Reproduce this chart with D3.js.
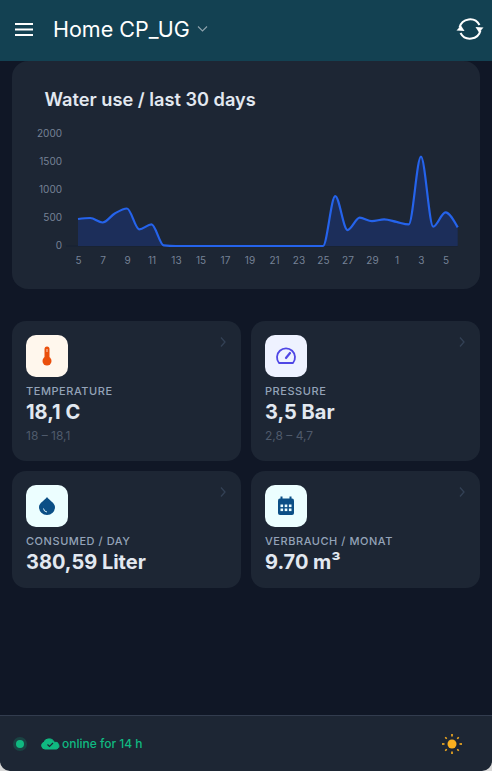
<!DOCTYPE html>
<html>
<head>
<meta charset="utf-8">
<script src="https://cdn.jsdelivr.net/npm/d3@7"></script>
<style>
  html, body { margin: 0; padding: 0; background: #101726; overflow: hidden; }
  text { font-family: Inter, "Noto Sans", sans-serif; }
</style>
</head>
<body>
<svg id="page" width="492" height="771"></svg>
<script>
var days = ["5","6","7","8","9","10","11","12","13","14","15","16","17","18","19","20","21","22","23","24","25","26","27","28","29","30","1","2","3","4","5","6"];
var waterUse = [482,500,420,580,670,298,385,10,0,0,0,0,0,0,0,0,0,0,0,0,0,890,285,505,445,475,430,385,1595,345,600,333];
var yTicks = [0,500,1000,1500,2000];

var cards = [
  {x:12, y:321, w:229, h:140, label:"TEMPERATURE", value:"18,1 C", range:"18 – 18,1", icon:"temp", tile:"#fff7ed"},
  {x:251, y:321, w:229, h:140, label:"PRESSURE", value:"3,5 Bar", range:"2,8 – 4,7", icon:"gauge", tile:"#eef2ff"},
  {x:12, y:471, w:229, h:117, label:"CONSUMED / DAY", value:"380,59 Liter", range:"", icon:"drop", tile:"#ecfeff"},
  {x:251, y:471, w:229, h:117, label:"VERBRAUCH / MONAT", value:"9.70 m³", range:"", icon:"calendar", tile:"#ecfeff"}
];

var cardColor = "#1d2634";
var svg = d3.select("#page");

// chart card
svg.append("rect").attr("x",12).attr("y",61).attr("width",468).attr("height",228).attr("rx",16).attr("fill",cardColor);

// header
svg.append("rect").attr("width",492).attr("height",61).attr("fill","#134152");
svg.append("g").attr("stroke","#fff").attr("stroke-width",2)
  .selectAll("line").data([24,29.5,35]).enter().append("line")
  .attr("x1",15).attr("x2",33).attr("y1",function(d){return d}).attr("y2",function(d){return d});
svg.append("text").attr("x",53).attr("y",37).attr("font-size",21.5).attr("fill","#fff").text("Home CP_UG");
svg.append("path").attr("d","M198 26.5l4.5 4.5l4.5-4.5").attr("fill","none").attr("stroke","#8fa3ad").attr("stroke-width",1.1);

// refresh icon
var sync = svg.append("g").attr("transform","translate(470,29)").attr("fill","none").attr("stroke","#fff").attr("stroke-width",2);
sync.append("path").attr("d","M-10.5 -1.5A10.8 10.8 0 0 1 9.5 -4");
sync.append("path").attr("d","M10.5 1.5A10.8 10.8 0 0 1 -9.5 4");
sync.append("path").attr("d","M13.5 -1.5L9 3.5L5.5 -2Z").attr("fill","#fff").attr("stroke","none");
sync.append("path").attr("d","M-13.5 1.5L-9 -3.5L-5.5 2Z").attr("fill","#fff").attr("stroke","none");

// chart
svg.append("text").attr("x",44.5).attr("y",106).attr("font-size",18.2).attr("font-weight",600).attr("fill","#e2e8f0").text("Water use / last 30 days");

var x = d3.scaleLinear().domain([0,days.length-1]).range([78,457.7]);
var y = d3.scaleLinear().domain([0,2000]).range([246,134]);

var area = d3.area().x(function(d,i){return x(i)}).y0(y(0)).y1(function(d){return y(d)}).curve(d3.curveMonotoneX);
var line = d3.line().x(function(d,i){return x(i)}).y(function(d){return y(d)}).curve(d3.curveMonotoneX);

var yAxis = d3.axisLeft(y).tickValues(yTicks).tickFormat(d3.format("d")).tickSize(0).tickPadding(0);
var yG = svg.append("g").attr("transform","translate(62,-1)").call(yAxis);
yG.select(".domain").remove();
yG.selectAll("text").attr("font-size",10).attr("fill","#768296").style("font-family","Inter");

var xAxis = d3.axisBottom(x)
  .tickValues(d3.range(0,days.length,2))
  .tickFormat(function(i){return days[i]})
  .tickSize(0).tickPadding(0);
var xG = svg.append("g").attr("transform","translate(0,257)").call(xAxis);
xG.select(".domain").remove();
xG.selectAll("text").attr("font-size",10).attr("fill","#768296").style("font-family","Inter");

svg.append("line").attr("x1",66).attr("x2",457.7).attr("y1",y(0)).attr("y2",y(0)).attr("stroke","#172033").attr("stroke-width",1);
svg.append("path").datum(waterUse).attr("d",area).attr("fill","#1c2e5a");
svg.append("path").datum(waterUse).attr("d",line).attr("fill","none").attr("stroke","#2563eb").attr("stroke-width",2.2);

// stat cards
var icons = {
  temp: function(g){
    g.append("rect").attr("x",-2.5).attr("y",-9.5).attr("width",5).attr("height",14).attr("rx",2.5).attr("fill","#ea4f0c");
    g.append("circle").attr("cy",5).attr("r",4.5).attr("fill","#ea4f0c");
    g.append("path").attr("d","M0 -7v3").attr("stroke","#fff7ed").attr("stroke-width",0.8);
  },
  gauge: function(g){
    g.append("path").attr("d","M-7 7A9 9 0 1 1 7 7Z").attr("fill","none").attr("stroke","#4f46e5").attr("stroke-width",1.8).attr("stroke-linejoin","round");
    g.append("path").attr("d","M0 2L4 -3").attr("stroke","#4f46e5").attr("stroke-width",2.2).attr("stroke-linecap","round");
  },
  drop: function(g){
    g.append("path").attr("d","M0 -9C2 -6 8 -3 8 1A8 8 0 0 1 -8 1C-8 -3 -2 -6 0 -9Z").attr("fill","#0b4f86");
    g.append("path").attr("d","M-3.5 2.5A4 4 0 0 0 0 6").attr("fill","none").attr("stroke","#ecfeff").attr("stroke-width",0.9);
  },
  calendar: function(g){
    g.append("rect").attr("x",-8).attr("y",-7.5).attr("width",16).attr("height",16.5).attr("rx",2).attr("fill","#0b4f86");
    g.append("g").attr("fill","#0b4f86").selectAll("rect").data([-5.5,3.5]).enter().append("rect")
      .attr("x",function(d){return d}).attr("y",-9.5).attr("width",2).attr("height",4);
    g.append("g").attr("fill","#ecfeff").selectAll("rect").data(d3.cross([-5.5,-1.3,2.9],[-1.5,2.5])).enter().append("rect")
      .attr("x",function(d){return d[0]}).attr("y",function(d){return d[1]}).attr("width",2.6).attr("height",2.6);
  }
};

var card = svg.selectAll("g.card").data(cards).enter().append("g").attr("class","card")
  .attr("transform",function(d){return "translate("+d.x+","+d.y+")"});
card.append("rect").attr("width",function(d){return d.w}).attr("height",function(d){return d.h}).attr("rx",14).attr("fill",cardColor);
card.append("rect").attr("x",14).attr("y",14).attr("width",42).attr("height",42).attr("rx",10).attr("fill",function(d){return d.tile});
card.each(function(d){
  var g = d3.select(this).append("g").attr("transform","translate(35,35)");
  icons[d.icon](g);
});
card.append("path").attr("d",function(d){return "M"+(d.w-20)+" 16.5l4 4.5l-4 4.5"}).attr("fill","none").attr("stroke","#334155").attr("stroke-width",1.3);
card.append("text").attr("x",14).attr("y",74).attr("font-size",11).attr("font-weight",500).attr("letter-spacing",0.55).attr("fill","#94a3b8").text(function(d){return d.label});
card.append("text").attr("x",14).attr("y",98).attr("font-size",20).attr("font-weight",700).attr("fill","#e2e8f0").text(function(d){return d.value});
card.append("text").attr("x",14).attr("y",119).attr("font-size",12).attr("fill","#4f5a6b").text(function(d){return d.range});

// footer
svg.append("rect").attr("y",715).attr("width",492).attr("height",56).attr("fill",cardColor);
svg.append("line").attr("x1",0).attr("x2",492).attr("y1",715.5).attr("y2",715.5).attr("stroke","#323c4e");
svg.append("path").attr("d","M0 761A10 10 0 0 0 10 771H0Z M492 761A10 10 0 0 1 482 771H492Z").attr("fill","#d8d8d8");
svg.append("circle").attr("cx",20).attr("cy",744).attr("r",7).attr("fill","#10b981").attr("opacity",0.2);
svg.append("circle").attr("cx",20).attr("cy",744).attr("r",4).attr("fill","#10b981");
svg.append("path").attr("d","M45 749a3.5 3.5 0 0 1-1-6.8a4.5 4.5 0 0 1 4-3.2a6 6 0 0 1 6.5 3.5a3.4 3.4 0 0 1 2 6.5Z").attr("fill","#10b981").attr("stroke","#10b981");
svg.append("path").attr("d","M47.5 744.5l2 2l3.5-3.5").attr("fill","none").attr("stroke",cardColor).attr("stroke-width",1.2);
svg.append("text").attr("x",62).attr("y",748).attr("font-size",12).attr("font-weight",500).attr("fill","#10b981").text("online for 14 h");

var sun = svg.append("g").attr("transform","translate(452,744)");
sun.append("circle").attr("r",4.5).attr("fill","#fbb020");
sun.selectAll("line").data(d3.range(0,360,45)).enter().append("line")
  .attr("y1",-7.5).attr("y2",function(d){return d%90==0?-10:-9.5})
  .attr("transform",function(d){return "rotate("+d+")"})
  .attr("stroke","#fbb020").attr("stroke-width",1.6);
</script>
</body>
</html>
